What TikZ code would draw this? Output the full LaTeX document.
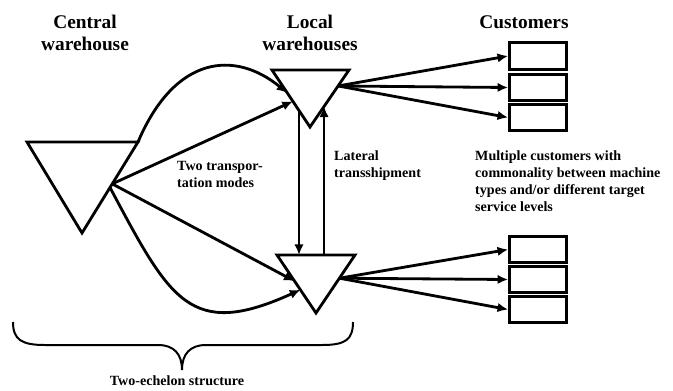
\documentclass[tikz,border=0pt]{standalone}
\usepackage{fontspec}
\setmainfont{Liberation Serif}
\usetikzlibrary{arrows.meta,calc}
\tikzset{
	wh/.style={line width=2.4pt,line join=miter},
	flow/.style={line width=2.4pt,-{Latex[length=9pt,width=8pt]}},
	cbox/.style={draw,line width=2.4pt,minimum width=1.71cm,minimum height=0.8cm,inner sep=0pt},
	head/.style={font=\fontsize{16.5}{19}\selectfont\bfseries,align=center,inner sep=0pt},
	note/.style={font=\fontsize{12}{14.5}\selectfont\bfseries,align=left,inner sep=0pt}
}

\begin{document}
\begin{tikzpicture}[x=0.03cm,y=-0.03cm]
\useasboundingbox (0,0) rectangle (673,390);

% warehouses
\draw [wh] (27,142) coordinate (cw-l) -- (138,142) coordinate (cw-r) -- (82,233) coordinate (cw-b) -- cycle;
\draw [wh] (272,70) coordinate (lw1-l) -- (349,70) coordinate (lw1-r) -- (310,127) coordinate (lw1-b) -- cycle;
\draw [wh] (277,255) coordinate (lw2-l) -- (355,255) coordinate (lw2-r) -- (316,313) coordinate (lw2-b) -- cycle;

\coordinate (cw-o1) at ($(cw-r)!0.46!(cw-b)$);
\coordinate (cw-o2) at ($(cw-r)!0.5!(cw-b)$);
\coordinate (lw1-i1) at ($(lw1-l)!0.4!(lw1-b)$);
\coordinate (lw1-i2) at ($(lw1-l)!0.55!(lw1-b)$);
\coordinate (lw2-i1) at ($(lw2-l)!0.45!(lw2-b)$);
\coordinate (lw2-i2) at ($(lw2-l)!0.6!(lw2-b)$);
\coordinate (lw1-d) at ($(lw1-l)!0.71!(lw1-b)$);
\coordinate (lw1-u) at ($(lw1-r)!0.64!(lw1-b)$);
\coordinate (lw1-o) at ($(lw1-r)!0.28!(lw1-b)$);
\coordinate (lw2-o) at ($(lw2-r)!0.4!(lw2-b)$);

% customers
\node [cbox] (c1) at (538,56) {};
\node [cbox] (c2) at (538,87.5) {};
\node [cbox] (c3) at (538,117.5) {};
\node [cbox] (c4) at (538,249.5) {};
\node [cbox] (c5) at (538,279.5) {};
\node [cbox] (c6) at (538,309.5) {};

% two transportation modes
\draw [flow] (cw-r) .. controls (175,55) and (235,50) .. (lw1-i1);
\draw [flow] (cw-o1) -- (lw1-i2);
\draw [flow] (cw-o1) -- (lw2-i1);
\draw [flow] (cw-o2) .. controls (170,300) and (190,340) .. (lw2-i2);

% lateral transshipment
\draw [flow] (lw1-d) -- (lw1-d |- lw2-l);
\draw [flow] (lw1-u |- lw2-l) -- (lw1-u);

\draw [flow] (lw1-o) -- (c1.west);
\draw [flow] (lw1-o) -- (c2.west);
\draw [flow] (lw1-o) -- (c3.west);
\draw [flow] (lw2-o) -- (c4.west);
\draw [flow] (lw2-o) -- (c5.west);
\draw [flow] (lw2-o) -- (c6.west);

% brace
\draw [line width=1.7pt] (13,322) .. controls (13,340) and (22,345) .. (45,345) -- (158,345)
	.. controls (174,345) and (182,354) .. (182,370) coordinate (br)
	.. controls (182,354) and (190,345) .. (206,345) -- (322,345)
	.. controls (345,345) and (353,340) .. (353,322);

% labels
\node [head] (cw-t) at (85,33) {Central\\warehouse};
\node [head] (lw-t) at (310,33) {Local\\warehouses};
\node [head] (cu-t) at (524,22) {Customers};
\node [note,anchor=west] (modes) at (177,174) {Two transpor-\\tation modes};
\node [note,anchor=west] (lat) at (334,166) {Lateral\\transshipment};
\node [note,anchor=west] (multi) at (475,181) {Multiple customers with\\commonality between machine\\types and/or different target\\service levels};
\node [note] (echelon) at (177,381) {Two-echelon structure};
\end{tikzpicture}
\end{document}
